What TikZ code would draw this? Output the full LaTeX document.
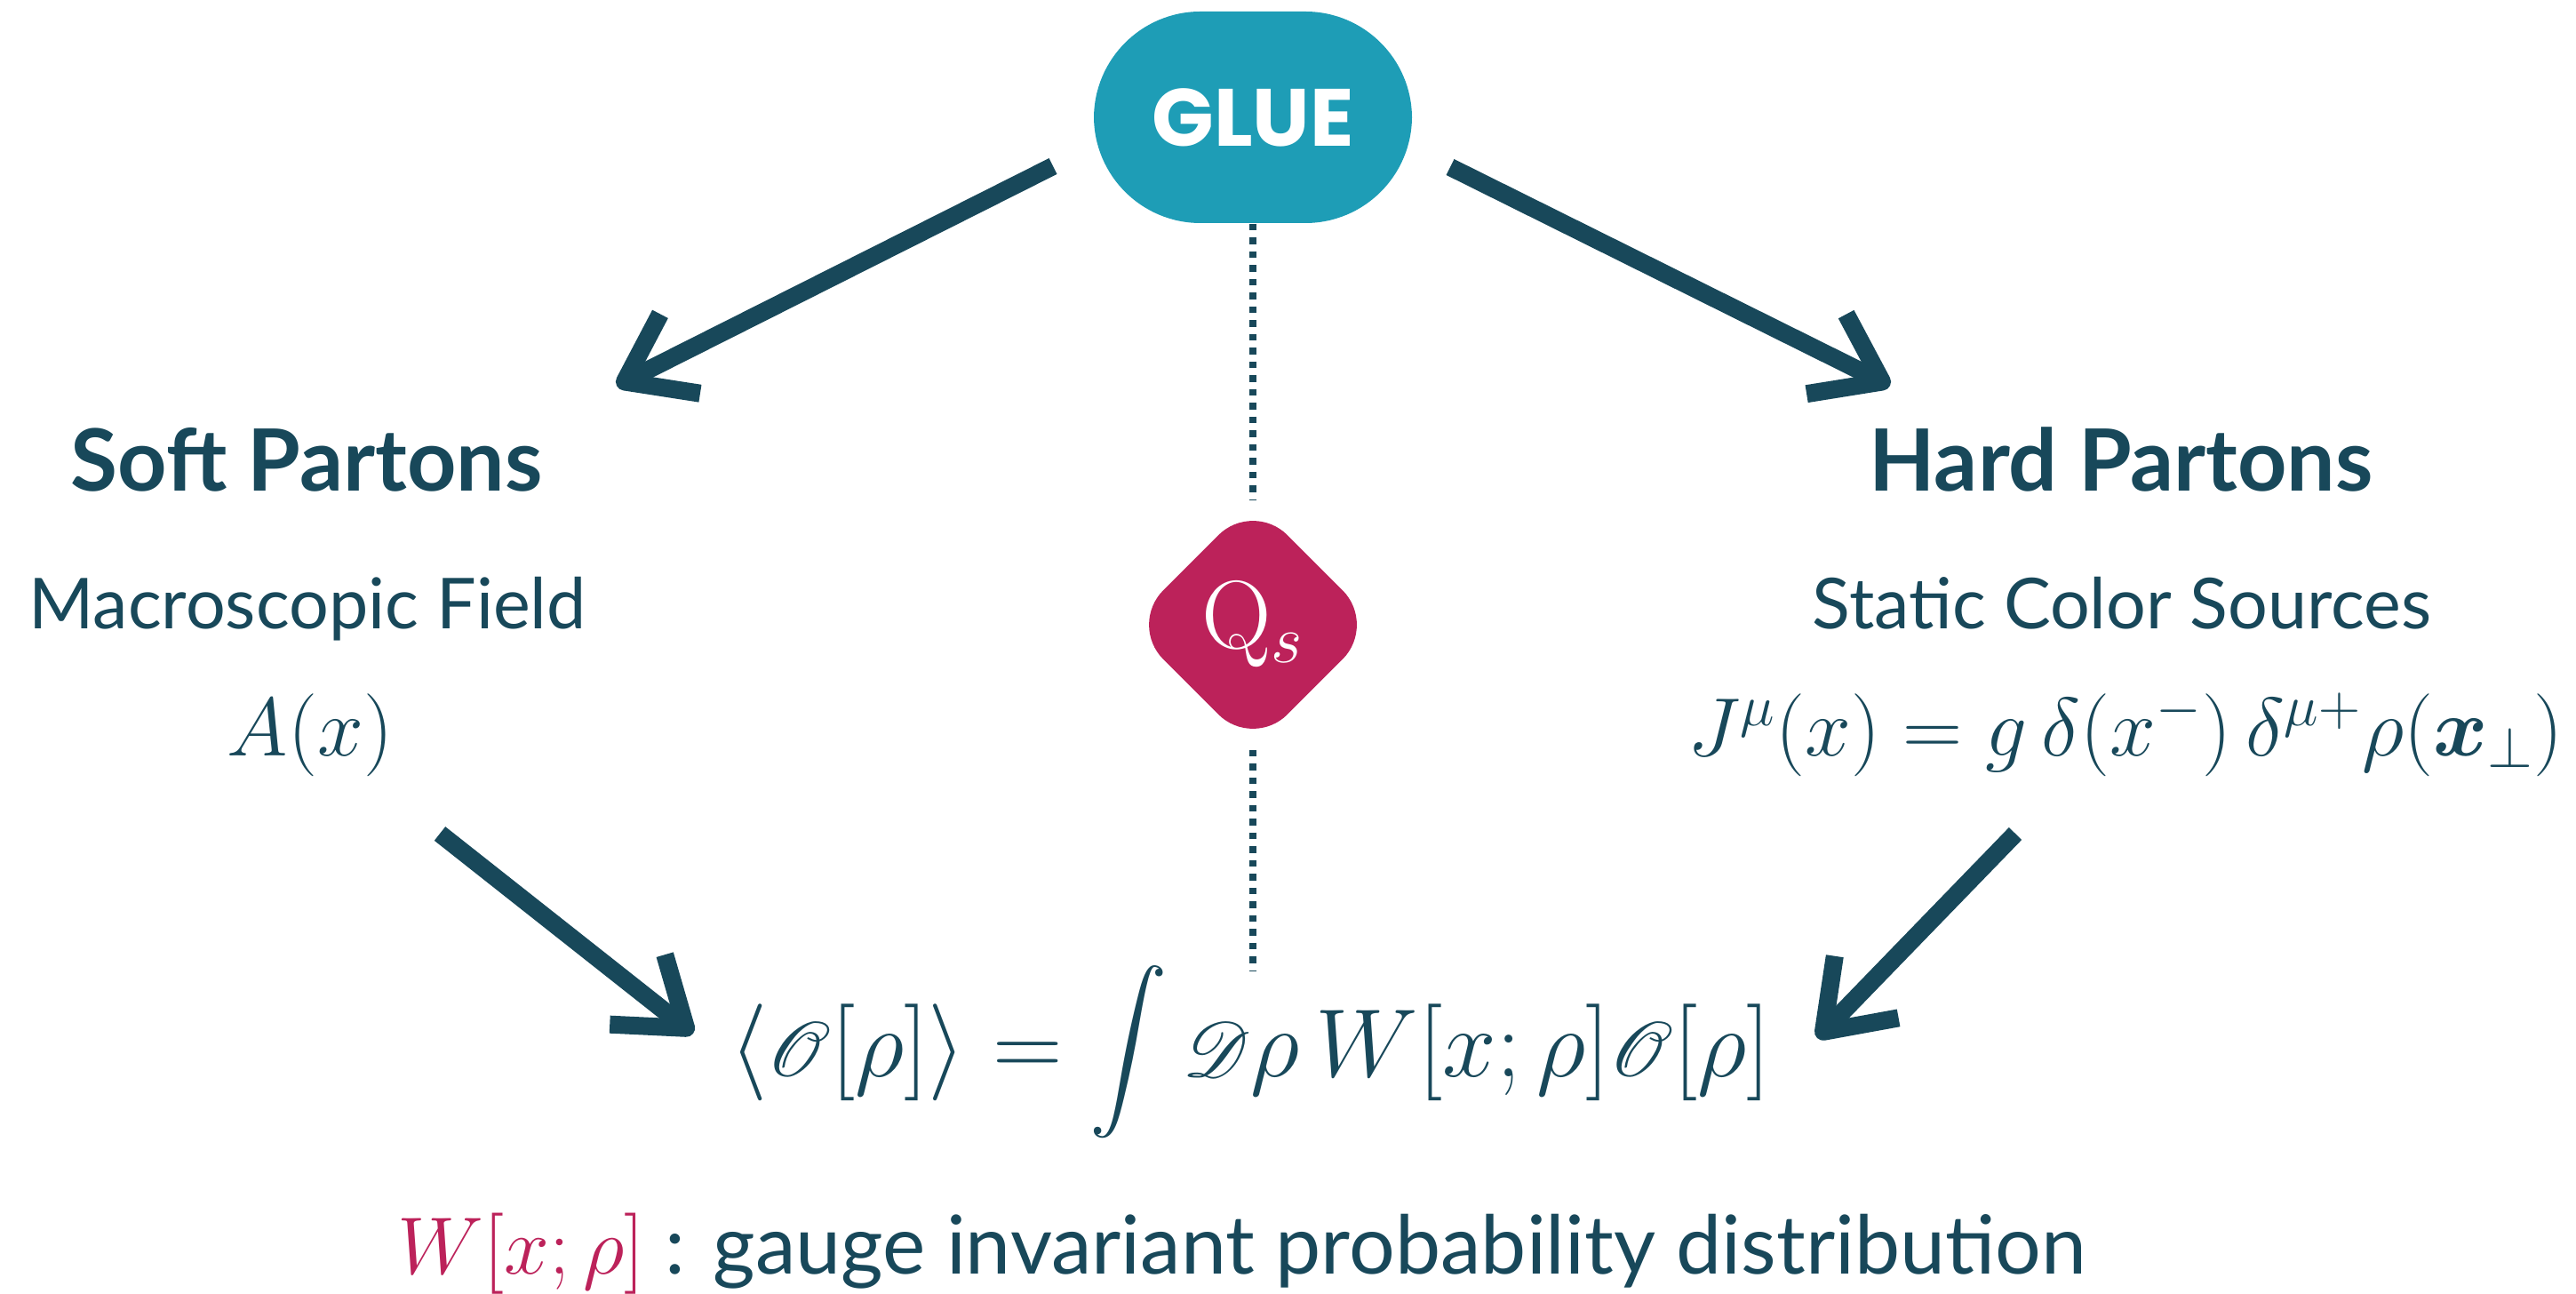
\RequirePackage{fix-cm}
\documentclass[tikz,border=0pt]{standalone}
\usepackage{amsmath}
\usepackage{mathrsfs}
\usepackage[no-math]{fontspec}
\setmainfont{Lato}
\newfontfamily\gluefont{Poppins}
\usepackage{tikz}
\usetikzlibrary{
  arrows.meta,
  shapes.geometric,
  positioning,
  calc
}
\definecolor{cgcDark}{HTML}{18485A}
\definecolor{cgcGlue}{HTML}{1E9DB6}
\definecolor{cgcSat}{HTML}{BC225A}
\tikzset{
  cgcnode/.style={text=cgcDark, inner sep=0pt},
  headtxt/.style={cgcnode, anchor=base, font=\fontsize{27.5}{32}\selectfont\bfseries},
  subtxt/.style={cgcnode, anchor=base, font=\fontsize{22.5}{26}\selectfont},
  mathtxt/.style={cgcnode, anchor=base, font=\fontsize{26.5}{31}\selectfont},
  gluebox/.style={
    fill=cgcGlue, rounded corners=1.2cm, minimum width=3.58cm, minimum height=2.38cm,
    text=white, font=\gluefont\bfseries\fontsize{26}{30}\selectfont
  },
  satbox/.style={
    diamond, fill=cgcSat, rounded corners=0.55cm, minimum width=2.8cm, minimum height=2.8cm,
    inner sep=0pt, text=white, font=\fontsize{31}{35}\selectfont
  },
  flow/.style={-{Straight Barb[length=0.7cm, width=1.0cm, line join=round]},
    line width=0.2cm, cgcDark},
  dotline/.style={cgcDark, line width=0.075cm, dash pattern=on 0.075cm off 0.08cm}
}
\begin{document}
\begin{tikzpicture}
  \useasboundingbox (0,0) rectangle (28.99,-14.56);
  % Top: glue and the saturation scale
  \node[gluebox] (glue) at (14.10,-1.32) {GLUE};
  \node[satbox] (qs) at (14.10,-7.03) {$\mathrm{Q}_s$};
  % Left column: soft partons
  \node[headtxt] (soft) at (3.45,-5.53) {Soft Partons};
  \node[subtxt] (field) at (3.46,-7.08) {Macroscopic Field};
  \node[mathtxt] (ax) at (3.49,-8.50) {$A(x)$};
  % Right column: hard partons
  \node[headtxt] (hard) at (23.87,-5.53) {Hard Partons};
  \node[subtxt] (sources) at (23.88,-7.08) {Static Color Sources};
  \node[mathtxt] (jmu) at (23.92,-8.50)
    {$J^{\mu}(x) = g\,\delta(x^{-})\,\delta^{\mu +}\rho(\boldsymbol{x}_{\perp})$};
  % Bottom: expectation value and the weight functional
  \node[cgcnode, font=\fontsize{31}{36}\selectfont] (avg) at (14.07,-11.84)
    {$\displaystyle \langle \mathscr{O}[\rho]\rangle = \int \mathscr{D}\rho\, W[x;\rho]\mathscr{O}[\rho]$};
  \node[subtxt, font=\fontsize{26}{30}\selectfont] (weight) at (13.98,-14.33)
    {\textcolor{cgcSat}{$W[x;\rho]$} : gauge invariant probability distribution};
  % Arrow end points
  \coordinate (gl) at (11.85,-1.87);
  \coordinate (gr) at (16.32,-1.88);
  \coordinate (sl) at (6.94,-4.34);
  \coordinate (sr) at (21.27,-4.34);
  \coordinate (al) at (4.95,-9.38);
  \coordinate (ar) at (22.68,-9.38);
  \coordinate (el) at (7.80,-11.63);
  \coordinate (er) at (20.45,-11.68);
  \coordinate (dotend) at (14.10,-10.92);
  \draw[flow] (gl) -- (sl);
  \draw[flow] (gr) -- (sr);
  \draw[flow] (al) -- (el);
  \draw[flow] (ar) -- (er);
  % Dotted link through Q_s
  \draw[dotline] (glue.south) -- (qs.north);
  \draw[dotline] (qs.south) -- (dotend);
\end{tikzpicture}
\end{document}
